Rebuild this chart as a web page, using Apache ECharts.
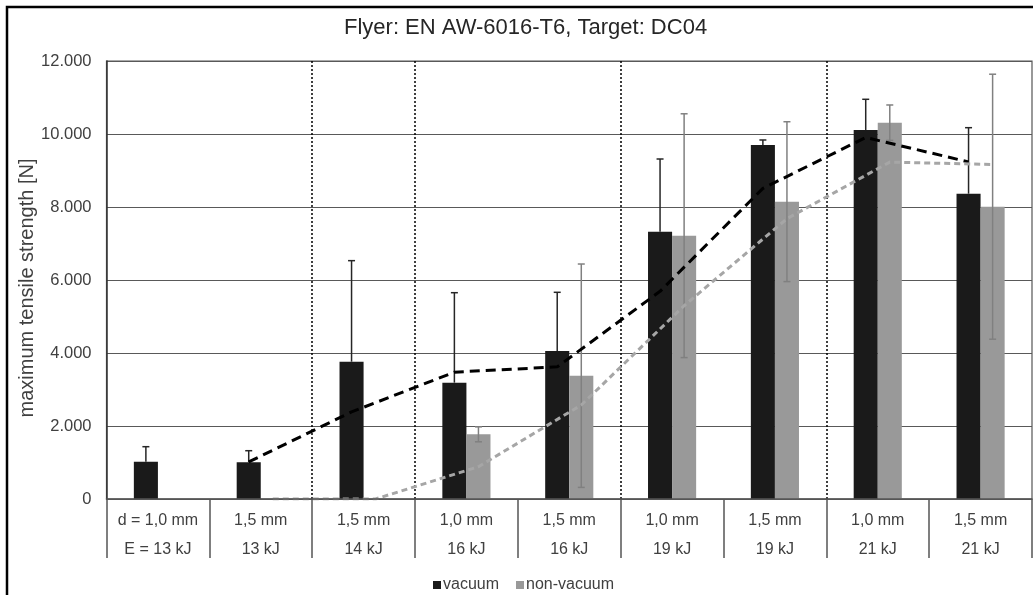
<!DOCTYPE html>
<html>
<head>
<meta charset="utf-8">
<title>Flyer: EN AW-6016-T6, Target: DC04</title>
<script src="https://cdn.jsdelivr.net/npm/echarts@6/dist/echarts.min.js"></script>
<style>
  html, body { margin: 0; padding: 0; background: #fff; }
  #chart { width: 1033px; height: 595px; }
</style>
</head>
<body>
<div id="chart"></div>
<script>
// categories (two label rows: flyer thickness / energy)
const thickness = ['d = 1,0 mm', '1,5 mm', '1,5 mm', '1,0 mm', '1,5 mm', '1,0 mm', '1,5 mm', '1,0 mm', '1,5 mm'];
const energy = ['E = 13 kJ', '13 kJ', '14 kJ', '16 kJ', '16 kJ', '19 kJ', '19 kJ', '21 kJ', '21 kJ'];

// max. tensile strength [N]
const vacuum = [1022, 1005, 3762, 3187, 4055, 7324, 9699, 10110, 8364];
const vacuumErr = [411, 318, 2768, 2465, 1608, 1991, 137, 841, 1809];
const nonVacuum = [0, 0, 0, 1772, 3378, 7214, 8146, 10310, 8008];
const nonVacuumErr = [null, null, null, 205, 3060, 3340, 2190, 485, 3630];

// trend lines (2-period moving average)
const vacuumTrend = [null, 1015, 2385, 3475, 3620, 5690, 8510, 9905, 9235];
const nonVacuumTrend = [null, 0, 0, 885, 2575, 5295, 7680, 9230, 9165];

// category boundaries drawn as dotted separators
const separators = [2, 3, 5, 7];

const yTicks = { min: 0, max: 12000, interval: 2000 };

const FONT = '"Liberation Sans", Arial, sans-serif';
const barFrac = 0.234; // bar width as share of the category band

const chart = echarts.init(document.getElementById('chart'));

function fmtDe(v) {
  return String(v).replace(/\B(?=(\d{3})+(?!\d))/g, '.');
}

// trend points sit on the centre of the matching bar
function trendData(arr, side) {
  const out = [];
  arr.forEach((v, i) => {
    if (v == null) return;
    out.push([i + 0.5 + side * barFrac / 2, v]);
  });
  return out;
}

// error bars; the lower half of the black ones is lost in the black bar anyway
function errSeries(name, vals, errs, side, color, both) {
  return {
    name: name + ' err',
    type: 'custom',
    xAxisIndex: 0,
    yAxisIndex: 0,
    z: 4,
    silent: true,
    data: vals.map((v, i) => [i, v, errs[i] == null ? 0 : errs[i]]),
    encode: { x: 0, y: 1 },
    renderItem(params, api) {
      const i = api.value(0), v = api.value(1), e = api.value(2);
      if (!e) return null;
      const band = api.size([1, 0])[0];
      const x = api.coord([i, v])[0] + side * band * barFrac / 2;
      const top = api.coord([i, v + e])[1];
      const bot = both ? api.coord([i, Math.max(0, v - e)])[1] : api.coord([i, v])[1];
      const cap = 3.5;
      const st = { stroke: color, lineWidth: 1.5 };
      const kids = [
        { type: 'line', shape: { x1: x, y1: top, x2: x, y2: bot }, style: st },
        { type: 'line', shape: { x1: x - cap, y1: top, x2: x + cap, y2: top }, style: st }
      ];
      if (both) {
        kids.push({ type: 'line', shape: { x1: x - cap, y1: bot, x2: x + cap, y2: bot }, style: st });
      }
      return { type: 'group', children: kids };
    }
  };
}

chart.setOption({
  animation: false,
  backgroundColor: '#fff',
  textStyle: { fontFamily: FONT },
  title: {
    text: 'Flyer: EN AW-6016-T6, Target: DC04',
    left: 339,
    top: 12,
    textStyle: { fontFamily: FONT, fontSize: 22, fontWeight: 'normal', color: '#262626' }
  },
  legend: {
    left: 428,
    top: 572,
    icon: 'rect',
    itemWidth: 8,
    itemHeight: 8,
    itemGap: 17,
    data: ['vacuum', 'non-vacuum'],
    textStyle: { fontFamily: FONT, fontSize: 16, color: '#404040', padding: [0, 0, 0, -3] }
  },
  grid: {
    left: 106.5,
    top: 61,
    right: 1,
    bottom: 96,
    show: true,
    borderColor: '#555',
    borderWidth: 1.2
  },
  xAxis: [
    {
      type: 'category',
      z: 6,
      data: thickness.map((t, i) => t + '\n' + energy[i]),
      axisLine: { lineStyle: { color: '#555', width: 1.5 } },
      axisTick: { show: true, interval: 0, length: 59, lineStyle: { color: '#555', width: 1.5 } },
      axisLabel: {
        interval: 0, fontFamily: FONT, fontSize: 16, lineHeight: 29,
        color: '#404040', margin: 7
      },
      splitLine: { show: false }
    },
    {
      type: 'value',
      min: 0,
      max: thickness.length,
      show: false,
      position: 'top'
    }
  ],
  yAxis: {
    type: 'value',
    min: yTicks.min,
    max: yTicks.max,
    interval: yTicks.interval,
    name: 'maximum tensile strength [N]',
    nameLocation: 'middle',
    nameMoveOverlap: false,
    nameGap: 69,
    nameTextStyle: { fontFamily: FONT, fontSize: 20, color: '#404040', padding: [0, 16, 0, 0] },
    axisLine: { show: true, lineStyle: { color: '#333', width: 1.5 } },
    axisTick: { show: false },
    axisLabel: { fontFamily: FONT, fontSize: 16.5, color: '#404040', margin: 15, formatter: fmtDe },
    splitLine: { lineStyle: { color: '#595959', width: 1.2 } }
  },
  series: [
    {
      name: 'vacuum',
      type: 'bar',
      barWidth: (barFrac * 100) + '%',
      barGap: '0%',
      itemStyle: { color: '#1a1a1a' },
      data: vacuum
    },
    {
      name: 'non-vacuum',
      type: 'bar',
      barWidth: (barFrac * 100) + '%',
      barGap: '0%',
      itemStyle: { color: '#999999' },
      data: nonVacuum
    },
    errSeries('vacuum', vacuum, vacuumErr, -1, '#262626', false),
    errSeries('non-vacuum', nonVacuum, nonVacuumErr, 1, '#808080', true),
    {
      name: 'vacuum trend',
      type: 'line',
      xAxisIndex: 1,
      z: 5,
      symbol: 'none',
      silent: true,
      lineStyle: { color: '#000', width: 3, type: [10, 6] },
      data: trendData(vacuumTrend, -1),
      markLine: {
        silent: true,
        symbol: 'none',
        label: { show: false },
        lineStyle: { color: '#000', width: 1.5, type: [2, 2] },
        data: separators.map(s => ({ xAxis: s }))
      }
    },
    {
      name: 'non-vacuum trend',
      type: 'line',
      xAxisIndex: 1,
      z: 5,
      symbol: 'none',
      silent: true,
      lineStyle: { color: '#a6a6a6', width: 3, type: [6, 4] },
      data: trendData(nonVacuumTrend, 1)
    }
  ],
  graphic: [
    {
      type: 'rect',
      shape: { x: 7, y: 7, width: 1040, height: 600 },
      style: { fill: null, stroke: '#000', lineWidth: 2.5 },
      silent: true
    }
  ]
});
</script>
</body>
</html>
